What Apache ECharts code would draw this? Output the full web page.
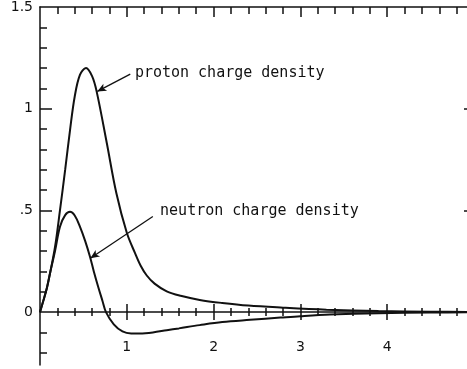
<!DOCTYPE html>
<html>
<head>
<meta charset="utf-8">
<script src="https://cdn.jsdelivr.net/npm/echarts@6/dist/echarts.min.js"></script>
<style>
html,body{margin:0;padding:0;background:#fff;}
#chart{width:467px;height:369px;}
</style>
</head>
<body>
<div id="chart"></div>
<script>
// radius values (fm) and charge densities
const protonR   = [0, 0.04, 0.08, 0.115, 0.173, 0.23, 0.29, 0.346, 0.40, 0.46, 0.53, 0.60, 0.653, 0.77, 0.88, 1.0, 1.095, 1.16, 1.23, 1.32, 1.46, 1.62, 1.84, 2.1, 2.4, 2.8, 3.3, 3.9, 4.5, 5.0];
const protonRho = [0, 0.058, 0.12, 0.19, 0.32, 0.50, 0.70, 0.895, 1.06, 1.166, 1.20, 1.16, 1.084, 0.83, 0.584, 0.39, 0.29, 0.228, 0.18, 0.14, 0.102, 0.08, 0.06, 0.045, 0.032, 0.022, 0.012, 0.005, 0.002, 0.001];
const neutronR   = [0, 0.04, 0.08, 0.115, 0.173, 0.23, 0.29, 0.346, 0.40, 0.46, 0.52, 0.576, 0.62, 0.67, 0.72, 0.76, 0.85, 0.95, 1.05, 1.15, 1.3, 1.46, 1.6, 1.84, 2.1, 2.42, 2.77, 3.0, 3.34, 3.9, 4.5, 5.0];
const neutronRho = [0, 0.058, 0.12, 0.19, 0.30, 0.42, 0.477, 0.493, 0.475, 0.42, 0.35, 0.272, 0.20, 0.125, 0.055, 0.0, -0.06, -0.095, -0.105, -0.105, -0.10, -0.089, -0.08, -0.064, -0.049, -0.038, -0.027, -0.02, -0.012, -0.005, -0.002, -0.001];

const xTickLabels = [1, 2, 3, 4];
const yTickLabels = [0, 0.5, 1, 1.5];
const xMinorTicks = [0.2,0.4,0.6,0.8,1.2,1.4,1.6,1.8,2.2,2.4,2.6,2.8,3.2,3.4,3.6,3.8,4.2,4.4,4.6,4.8];
const xMajorTicks = [1, 2, 3, 4, 5];
const yMinorTicks = [-0.2,-0.1,0.1,0.2,0.3,0.4,0.6,0.7,0.8,0.9,1.1,1.2,1.3,1.4];
const yMajorTicks = [0.5, 1];

const protonLabel = 'proton charge density';
const neutronLabel = 'neutron charge density';

const ink = '#111';
const chart = echarts.init(document.getElementById('chart'), null, {renderer: 'canvas'});

function xAx(opts) {
  return Object.assign({
    type: 'value', min: 0, max: 5, gridIndex: 0,
    splitLine: {show: false},
    axisLine: {show: false, onZero: true, lineStyle: {color: ink, width: 1.5}},
    axisTick: {show: false},
    axisLabel: {show: false}
  }, opts);
}
function yAx(opts) {
  return Object.assign({
    type: 'value', min: -0.26, max: 1.5, gridIndex: 0,
    splitLine: {show: false},
    axisLine: {show: false, onZero: false, lineStyle: {color: ink, width: 1.5}},
    axisTick: {show: false},
    axisLabel: {show: false}
  }, opts);
}
const tickStyle = {color: ink, width: 1.5};

const option = {
  animation: false,
  backgroundColor: '#fff',
  grid: {left: 40, top: 7, width: 434, height: 358, containLabel: false, outerBoundsMode: 'none'},
  xAxis: [
    xAx({position: 'bottom',
      axisLine: {show: true, onZero: true, lineStyle: {color: ink, width: 1.5}},
      axisTick: {show: true, inside: false, length: 4, customValues: xMinorTicks, lineStyle: tickStyle}
    }),
    xAx({position: 'bottom',
      axisTick: {show: true, inside: true, length: 4, customValues: xMinorTicks, lineStyle: tickStyle}}),
    xAx({position: 'bottom',
      axisTick: {show: true, inside: false, length: 8, customValues: xMajorTicks, lineStyle: tickStyle}}),
    xAx({position: 'bottom',
      axisTick: {show: true, inside: true, length: 8, customValues: xMajorTicks, lineStyle: tickStyle}}),
    xAx({position: 'top',
      axisLine: {show: true, onZero: false, lineStyle: {color: ink, width: 1.5}},
      axisTick: {show: true, inside: true, length: 7, customValues: xMinorTicks, lineStyle: tickStyle}}),
    xAx({position: 'top',
      axisLine: {show: false, onZero: false},
      axisTick: {show: true, inside: true, length: 10, customValues: xMajorTicks, lineStyle: tickStyle}}),
    xAx({position: 'bottom',
      axisLine: {show: false, onZero: false},
      axisLabel: {show: true, customValues: xTickLabels, margin: -25, color: ink, fontSize: 14, fontFamily: 'DejaVu Sans'}
    })
  ],
  yAxis: [
    yAx({position: 'left',
      axisLine: {show: true, onZero: false, lineStyle: {color: ink, width: 1.5}},
      axisTick: {show: true, inside: true, length: 12, customValues: yMajorTicks, lineStyle: tickStyle},
      axisLabel: {show: true, customValues: yTickLabels, margin: 7, color: ink, fontSize: 14, fontFamily: 'DejaVu Sans',
        formatter: function (v) { if (v === 0) return '0'; if (v === 0.5) return '.5'; return String(v); }}
    }),
    yAx({position: 'left',
      axisTick: {show: true, inside: true, length: 7, customValues: yMinorTicks, lineStyle: tickStyle}}),
    yAx({position: 'right',
      axisLine: {show: true, onZero: false, lineStyle: {color: ink, width: 1.5}},
      axisTick: {show: true, inside: true, length: 10, customValues: yMajorTicks, lineStyle: tickStyle}}),
    yAx({position: 'right',
      axisTick: {show: true, inside: true, length: 6, customValues: yMinorTicks, lineStyle: {color: '#bbb', width: 1}}})
  ],
  series: [
    {
      type: 'line', name: 'proton', xAxisIndex: 0, yAxisIndex: 0,
      data: protonR.map((r, i) => [r, protonRho[i]]),
      smooth: 0.35, showSymbol: false, silent: true,
      lineStyle: {color: ink, width: 2},
      markLine: {
        silent: true, symbol: ['none', 'arrow'], symbolSize: [6, 9],
        label: {show: false},
        lineStyle: {color: ink, width: 1.3, type: 'solid'},
        data: [[{coord: [1.04, 1.17]}, {coord: [0.66, 1.085]}]]
      },
      markPoint: {
        silent: true, symbol: 'circle', symbolSize: 0,
        label: {show: true, position: 'right', distance: 2, color: ink, fontSize: 15, fontFamily: 'DejaVu Sans Mono',
          formatter: protonLabel},
        data: [{coord: [1.07, 1.175]}]
      }
    },
    {
      type: 'line', name: 'neutron', xAxisIndex: 0, yAxisIndex: 0,
      data: neutronR.map((r, i) => [r, neutronRho[i]]),
      smooth: 0.35, showSymbol: false, silent: true,
      lineStyle: {color: ink, width: 2},
      markLine: {
        silent: true, symbol: ['none', 'arrow'], symbolSize: [6, 9],
        label: {show: false},
        lineStyle: {color: ink, width: 1.3, type: 'solid'},
        data: [[{coord: [1.30, 0.47]}, {coord: [0.58, 0.265]}]]
      },
      markPoint: {
        silent: true, symbol: 'circle', symbolSize: 0,
        label: {show: true, position: 'right', distance: 2, color: ink, fontSize: 15, fontFamily: 'DejaVu Sans Mono',
          formatter: neutronLabel},
        data: [{coord: [1.36, 0.497]}]
      }
    }
  ]
};
chart.setOption(option);
</script>
</body>
</html>
